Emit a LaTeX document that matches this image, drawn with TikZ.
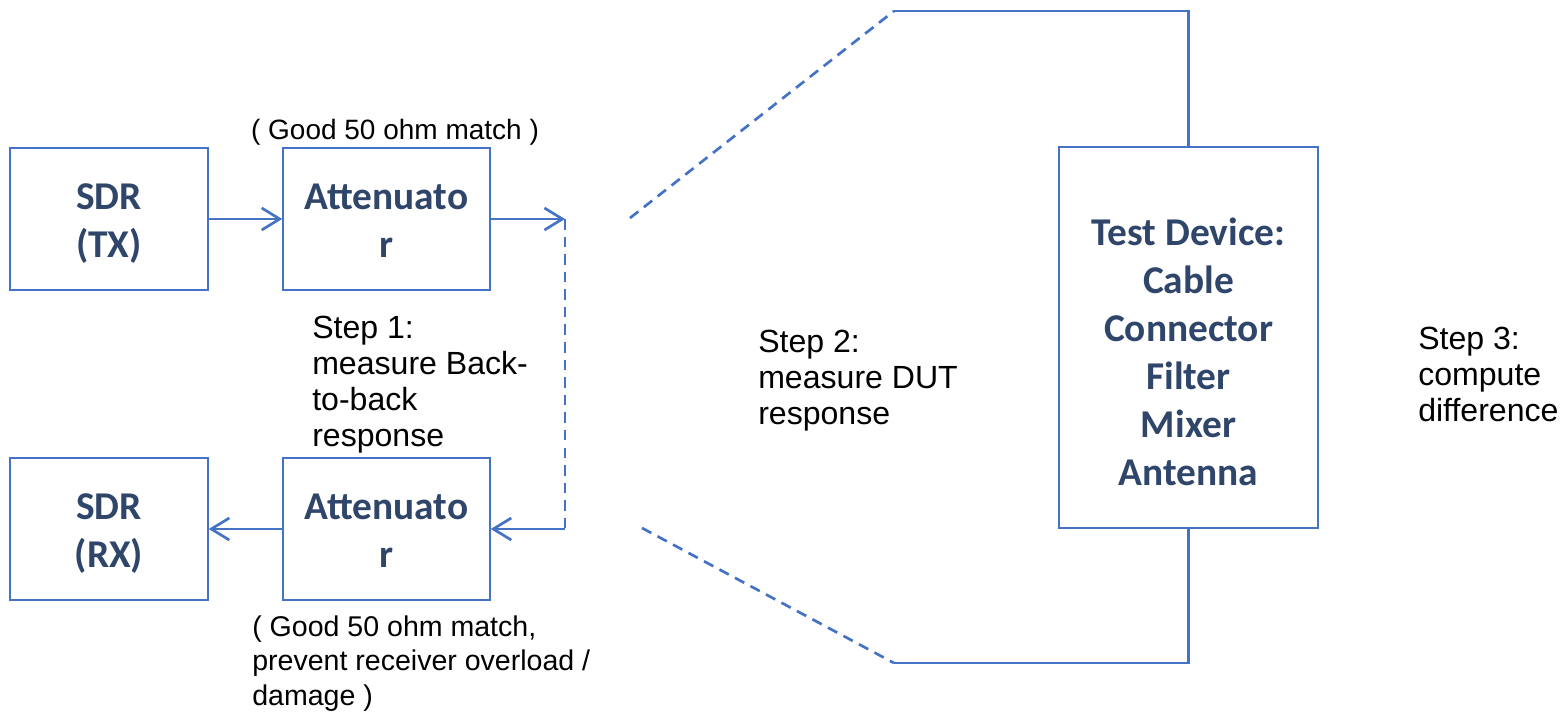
\documentclass[tikz,border=0pt]{standalone}
\usepackage{fontspec}
\setmainfont{Liberation Sans}
\newfontfamily\boxfont{Carlito}
\usepackage{tikz}
\usetikzlibrary{arrows.meta}
\definecolor{linkblue}{HTML}{4472C4}
\definecolor{boxtext}{HTML}{2F466A}

\begin{document}
\begin{tikzpicture}[x=0.025cm, y=-0.025cm,
  box/.style={draw=linkblue, line width=1pt, minimum height=3.55cm,
              align=center, inner sep=0pt, text=boxtext,
              text height=54.8pt, text depth=0pt,
              font=\boxfont\bfseries\fontsize{28}{34.1}\selectfont},
  note/.style={align=left, inner sep=0pt, anchor=base west,
               font=\fontsize{22.8}{25.6}\selectfont},
  link/.style={draw=linkblue, line width=1.9pt},
  tip/.style={-{Straight Barb[length=4.5mm,width=5.5mm]}},
  gap/.style={dash pattern=on 7.5pt off 5pt},
]
\useasboundingbox (0,0) rectangle (1565,711);

% measurement chain
\node[box, minimum width=4.95cm]  (sdrtx) at (109,219)   {SDR\\(TX)};
\node[box, minimum width=5.175cm] (atttx) at (386.5,219) {Attenuato\\r};
\node[box, minimum width=4.95cm]  (sdrrx) at (109,529)   {SDR\\(RX)};
\node[box, minimum width=5.175cm] (attrx) at (386.5,529) {Attenuato\\r};
\node[box, minimum width=6.475cm, minimum height=9.525cm, text height=210.6pt]
  (dut) at (1188.5,337.5)
  {Test Device:\\Cable\\Connector\\Filter\\Mixer\\Antenna};

\coordinate (loopa) at (565,219);
\coordinate (loopb) at (565,529);
\coordinate (gapa)  at (630,218);
\coordinate (gapb)  at (642,528);
\coordinate (topl)  at (894,11);
\coordinate (botl)  at (894,663);

\draw[link, tip] (sdrtx) -- (atttx);
\draw[link, tip] (atttx) -- (loopa);
\draw[link, gap] (loopa) -- (loopb);
\draw[link, tip] (loopb) -- (attrx);
\draw[link, tip] (attrx) -- (sdrrx);

\draw[link, gap] (gapa) -- (topl);
\draw[link] (topl) -| (dut.north);
\draw[link, gap] (gapb) -- (botl);
\draw[link] (botl) -| (dut.south);

% labels (base = last line)
\node[anchor=base, inner sep=0pt, font=\fontsize{19.9}{24.2}\selectfont] (matchtop) at (395,139)
  {( Good 50 ohm match )};
\node[note] (stepone) at (312,446) {Step 1:\\measure Back-\\to-back\\response};
\node[note] (steptwo) at (758,424) {Step 2:\\measure DUT\\response};
\node[note] (stepthree) at (1418,421) {Step 3:\\compute\\difference};
\node[note, font=\fontsize{20.3}{24.5}\selectfont] (matchbot) at (252,705)
  {( Good 50 ohm match,\\prevent receiver overload /\\damage )};
\end{tikzpicture}
\end{document}
